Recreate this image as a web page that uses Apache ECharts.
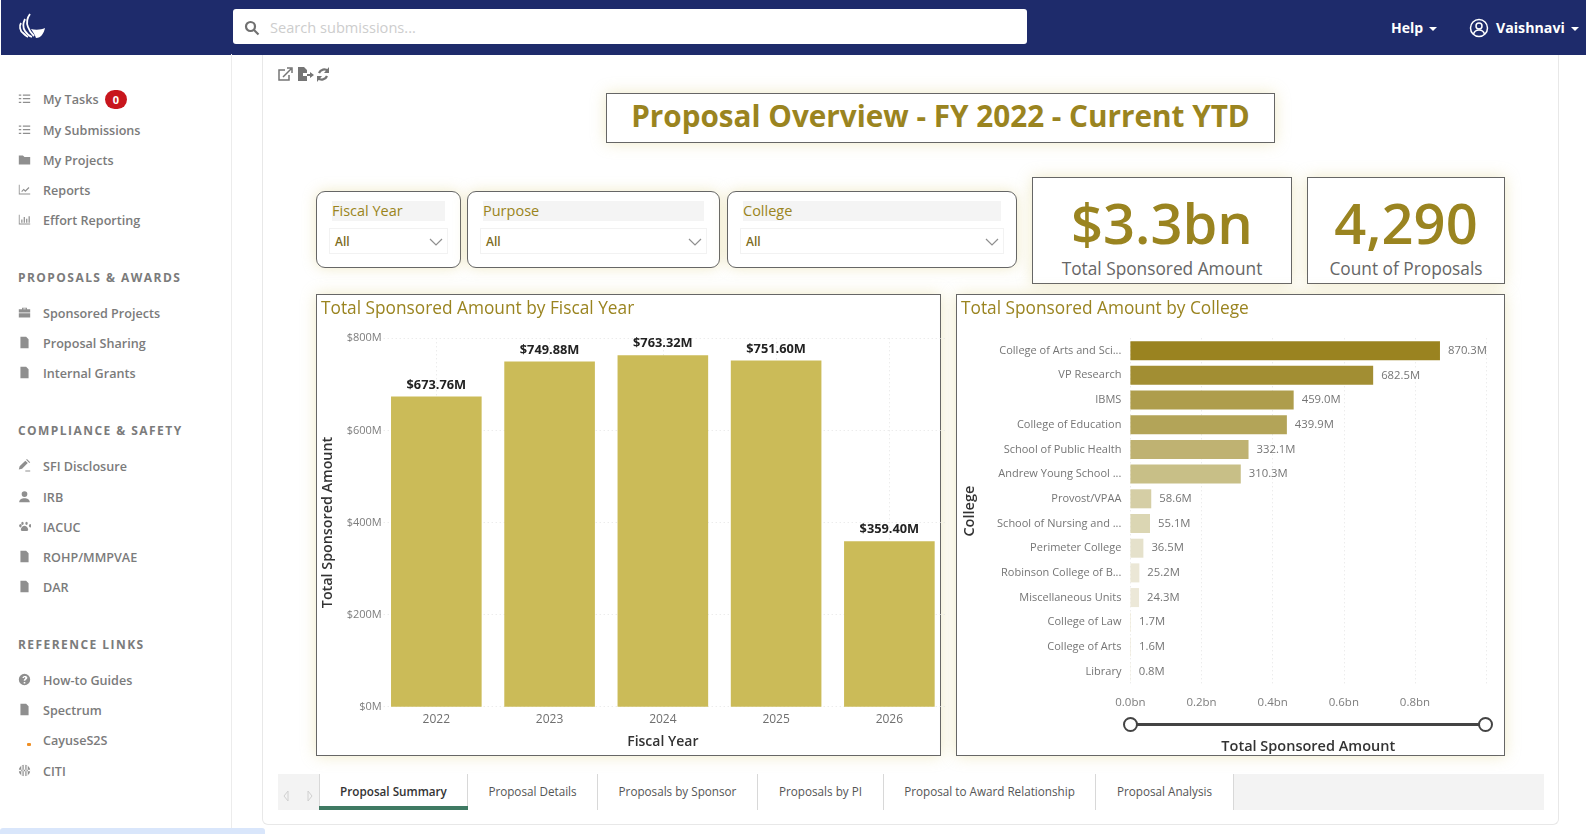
<!DOCTYPE html>
<html>
<head>
<meta charset="utf-8">
<title>Proposal Overview</title>
<script src="https://cdn.jsdelivr.net/npm/echarts@6/dist/echarts.min.js"></script>
<style>
html, body { margin: 0; padding: 0; width: 1586px; height: 834px; overflow: hidden; background: #fff; font-family: "Open Sans", sans-serif; }
body { filter: blur(0.45px); }
.abs { position: absolute; box-sizing: border-box; white-space: nowrap; }
#chart { position: absolute; left: 0; top: 0; width: 1586px; height: 834px; }
.glow { background: #fff; border: 1px solid #666; box-shadow: 0 0 14px rgba(215, 200, 110, .38); }
.menu { font-size: 12.6px; font-weight: 600; color: #7b7b7b; }
.head { font-size: 12px; font-weight: 700; color: #7b7b7b; letter-spacing: 1.45px; }
.tab { font-size: 11.7px; color: #555; background: #fff; text-align: center; border-right: 1px solid #d8d8d8; height: 36px; line-height: 34px; }
</style>
</head>
<body>
<div id="page"></div>
<div id="chart"></div>
<script>
// chart data
var years = ['2022', '2023', '2024', '2025', '2026'];
var yearAmounts = [673.76, 749.88, 763.32, 751.60, 359.40];
var colleges = ['College of Arts and Sci...', 'VP Research', 'IBMS', 'College of Education', 'School of Public Health',
	'Andrew Young School ...', 'Provost/VPAA', 'School of Nursing and ...', 'Perimeter College', 'Robinson College of B...',
	'Miscellaneous Units', 'College of Law', 'College of Arts', 'Library'];
var collegeAmounts = [870.3, 682.5, 459.0, 439.9, 332.1, 310.3, 58.6, 55.1, 36.5, 25.2, 24.3, 1.7, 1.6, 0.8];
var collegeColors = ['#9a8320', '#a28e33', '#ae9d4c', '#b3a458', '#bfb272', '#c8bf87', '#d5cea5', '#dbd6b3',
	'#e5e1cb', '#ebe7d6', '#ece8d8', '#eee9d6', '#eee9d6', '#eee9d6'];

// page furniture
var ICONS = {
	tasks: 'M1 3h3v1.5H1zM6 3h9v1.5H6zM1 7.5h3V9H1zM6 7.5h9V9H6zM1 12h3v1.5H1zM6 12h9v1.5H6z',
	folder: 'M1 3h5l2 2h7v9H1z',
	chart: 'M1 2h1v11h13v1H1zM4 10l3-3 2 2 4-4 1 1-5 5-2-2-2 2z',
	bars: 'M1 2h1v11h13v1H1zM4 8h1.500v4H4zM7 5h1.500v7H7zM10 7h1.500v5H10zM13 4h1.500v8H13z',
	bag: 'M5 2h6v2h4v4H1V4h4zM6.500 3.200V4h3v-.8zM1 9h14v5H1z',
	file: 'M3 1h7l3 3v11H3zM5 7h6v1.200H5zM5 10h6v1.200H5z',
	edit: 'M1 13l1-4 7-7 3 3-7 7zM10 1l1-1 4 4-1 1zM9 14h6v1.500H9z',
	user: 'M8 1.500a3.500 3.500 0 1 1 0 7 3.500 3.500 0 0 1 0-7zM1.500 15c0-3.500 3-5 6.500-5s6.500 1.500 6.500 5z',
	paw: 'M8 7c3 0 4.500 3 4.500 5 0 2-2.500 1.500-4.500 1.500S3.500 14 3.500 12c0-2 1.500-5 4.500-5zM2 5.500a1.500 2 0 1 1 0 3 1.500 2 0 0 1 0-3zM14 5.500a1.500 2 0 1 1 0 3 1.500 2 0 0 1 0-3zM5.500 2a1.500 2 0 1 1 0 4 1.500 2 0 0 1 0-4zM10.500 2a1.500 2 0 1 1 0 4 1.500 2 0 0 1 0-4z',
	help: 'M8 1a7 7 0 1 1 0 14A7 7 0 0 1 8 1zM7 11v2h2v-2zM5.500 6h2c0-1.500 1.500-1 1.500 0 0 1-2 1.200-2 3.500h2c0-1.500 2.500-2 2.500-3.800C11.500 3 5.800 3 5.500 6z',
	globe: 'M8 1a7 7 0 1 1 0 14A7 7 0 0 1 8 1zM1 7v2h14V7zM7 1v14h2V1zM4 2v12h1.500V2zM10.500 2v12H12V2z'
};
var menuRows = [
	['My Tasks', 100, 'tasks'], ['My Submissions', 130.5, 'tasks'], ['My Projects', 160.5, 'folder'], ['Reports', 190.5, 'chart'], ['Effort Reporting', 220.5, 'bars'],
	['Sponsored Projects', 314, 'bag'], ['Proposal Sharing', 344, 'file'], ['Internal Grants', 374, 'file'],
	['SFI Disclosure', 467, 'edit'], ['IRB', 497.5, 'user'], ['IACUC', 527.5, 'paw'], ['ROHP/MMPVAE', 557.5, 'file'], ['DAR', 587.5, 'file'],
	['How-to Guides', 681, 'help'], ['Spectrum', 711, 'file'], ['CayuseS2S', 741, null], ['CITI', 772, 'globe']
];
var menuHeads = [['PROPOSALS & AWARDS', 277.5], ['COMPLIANCE & SAFETY', 431], ['REFERENCE LINKS', 644.5]];
var slicers = [['Fiscal Year', 316, 461], ['Purpose', 467, 720], ['College', 727, 1017]];
var kpis = [['$3.3bn', 'Total Sponsored Amount', 1032, 1292], ['4,290', 'Count of Proposals', 1307, 1505]];
var tabs = [['Proposal Summary', 319, 468], ['Proposal Details', 468, 598], ['Proposals by Sponsor', 598, 758],
	['Proposals by PI', 758, 884], ['Proposal to Award Relationship', 884, 1096], ['Proposal Analysis', 1096, 1234]];

var page = document.getElementById('page');
function box(x, y, w, h, css, text, cls) {
	var d = document.createElement('div');
	d.className = 'abs ' + (cls || '');
	d.style.cssText = 'left:' + x + 'px;top:' + y + 'px;width:' + w + 'px;height:' + h + 'px;' + (css || '');
	if (text) d.textContent = text;
	page.appendChild(d);
	return d;
}
function icon(name, x, y, size, color) {
	var d = box(x, y, size, size);
	d.innerHTML = '<svg width="' + size + '" height="' + size + '" viewBox="0 0 16 16"><path fill="' + color + '" d="' + ICONS[name] + '"/></svg>';
	return d;
}
function caret(x, y) {
	box(x, y, 0, 0, 'border-left:4px solid transparent;border-right:4px solid transparent;border-top:4px solid #fff');
}

// header
box(1, 0, 1585, 54.5, 'background:#1e2b6b');
var logo = box(17, 12, 30, 30);
logo.innerHTML = '<svg width="30" height="30" viewBox="0 0 30 30" fill="none" stroke="#fff"><path stroke-width="1.800" d="M13 2c-3 4-4 8-2 13 1 3 3 6 6 9"/><path stroke-width="1.800" d="M8 7c-2 4-2 9 0 12 2 3 4 5 7 6"/><path stroke-width="1.800" d="M4 11c-2 3-1 8 2 10 1 1 3 3 5 4"/><path fill="#fff" stroke="none" d="M14 17c4 1 10 1 14-1-1 5-4 10-9 10-1-3-3-6-5-9z"/></svg>';
box(232.500, 9, 794.500, 35, 'background:#fff;border-radius:3px');
var glass = box(244, 19, 16, 16);
glass.innerHTML = '<svg width="16" height="16" viewBox="0 0 16 16" fill="none" stroke="#707070" stroke-width="2.200"><circle cx="6.500" cy="6.500" r="4.500"/><path d="M10 10l4.500 4.500"/></svg>';
box(270, 17, 200, 20, 'font-size:14.600px;line-height:20px;color:#cdcdcd', 'Search submissions...');
box(1391, 18, 40, 20, 'font-size:14px;line-height:20px;font-weight:700;color:#fff', 'Help');
caret(1429, 27);
var face = box(1469, 18, 20, 20);
face.innerHTML = '<svg width="20" height="20" viewBox="0 0 20 20" fill="none" stroke="#fff" stroke-width="1.500"><circle cx="10" cy="10" r="8.500"/><circle cx="10" cy="8" r="3"/><path d="M4.500 16c1-3 3-4 5.500-4s4.500 1 5.500 4"/></svg>';
box(1496, 18, 76, 20, 'font-size:14.200px;line-height:20px;font-weight:700;color:#fff', 'Vaishnavi');
caret(1571, 27);

// sidebar
box(231, 54, 1, 780, 'background:#ececec');
menuRows.forEach(function (r) {
	box(43, r[1] - 9, 170, 18, 'line-height:18px', r[0], 'menu');
	if (r[2]) icon(r[2], 18, r[1] - 12, 13, '#8f8f8f');
});
box(27, 743, 4, 3, 'background:#ef8f24;border-radius:1px');
menuHeads.forEach(function (r) { box(18, r[1] - 9, 200, 18, 'line-height:18px', r[0], 'head'); });
box(105, 90, 22, 19, 'background:#c8161d;border-radius:10px;color:#fff;font-size:11px;font-weight:700;line-height:19px;text-align:center', '0');
box(0, 828, 265, 8, 'background:#d9e6fb;border-radius:3px');

// content card
box(262, 55, 1297, 770, 'border:1px solid #e8e8e8;border-radius:0 0 6px 6px;border-top:0');
var tools = box(277, 66, 60, 17);
tools.innerHTML = '<svg width="60" height="17" viewBox="0 0 60 17" fill="none" stroke="#757575" stroke-width="1.500"><path d="M12 9v5H2V4h6"/><path d="M6 11l8-8M10 2h5v5"/><path fill="#757575" stroke="none" d="M21 1h6l3 3v3h-4v3h4v5H21zM30 8h3V6l4 3-4 3v-2h-3z"/><path stroke-width="2.200" d="M51 5a5.500 5.500 0 0 0-9 2M41 12a5.500 5.500 0 0 0 9-2"/><path fill="#757575" stroke="none" d="M52 1v6h-5zM40 16v-6h5z"/></svg>';

// report title
box(606, 93, 669, 50, 'font-size:29.700px;line-height:44px;font-weight:700;color:#9a8420;text-align:center', 'Proposal Overview - FY 2022 - Current YTD', 'glow');

// slicers
slicers.forEach(function (s) {
	var w = s[2] - s[1];
	box(s[1], 191, w, 77, 'border-radius:9px;border-width:1.500px', '', 'glow');
	box(s[1] + 16, 201, w - 32, 20, 'background:#f4f4f4;font-size:14.500px;line-height:20px;color:#9a8420', s[0]);
	box(s[1] + 13, 228, w - 26, 26, 'border:1px solid #f2f2f2;font-size:12px;line-height:25px;font-weight:600;color:#7d6c1e;padding-left:5px', 'All');
	var c = box(s[2] - 32, 230, 14, 10);
	c.innerHTML = '<svg width="14" height="10" viewBox="0 0 14 10" fill="none" stroke="#8f8f8f" stroke-width="1.200"><path d="M1 2l6 6 6-6"/></svg>';
});

// KPI cards
kpis.forEach(function (k) {
	var w = k[3] - k[2];
	box(k[2], 177, w, 107, '', '', 'glow');
	box(k[2], 186, w, 72, 'font-size:56px;line-height:72px;font-weight:600;color:#9a8420;text-align:center', k[0]);
	box(k[2], 257, w, 24, 'font-size:17.300px;line-height:24px;color:#666;text-align:center', k[1]);
});

// chart panels, the charts draw on top of these
box(315.500, 294, 625.500, 461.500, '', '', 'glow');
box(956, 294, 549, 461.500, '', '', 'glow');

// range slider under the college chart
box(1130, 722.500, 356, 3, 'background:#444');
box(1123, 717, 15, 15, 'border:2px solid #444;border-radius:50%;background:#fff');
box(1478, 717, 15, 15, 'border:2px solid #444;border-radius:50%;background:#fff');

// tabs
box(278, 773.500, 1266, 36, 'background:#f3f3f3');
var arrows = box(283, 785, 30, 12);
arrows.innerHTML = '<svg width="30" height="12" viewBox="0 0 30 12" fill="none" stroke="#d0d0d0"><path d="M5 1L1 6l4 5zM25 1l4 5-4 5z"/></svg>';
tabs.forEach(function (t, i) {
	box(t[1], 773.500, t[2] - t[1], 36, i === 0 ? 'color:#333;font-weight:600;border-left:1px solid #d8d8d8' : '', t[0], 'tab');
});
box(319, 806, 149, 3.500, 'background:#3f7a63');

// charts
var GOLD = '#9a8420';
var FONT = '"Open Sans", sans-serif';
var chart = echarts.init(document.getElementById('chart'), null, { renderer: 'canvas' });
var dots = { color: '#e4e4e4', type: [1, 3], width: 1 };

chart.setOption({
	animation: false,
	backgroundColor: 'transparent',
	textStyle: { fontFamily: FONT },
	title: [
		{ text: 'Total Sponsored Amount by Fiscal Year', left: 316, top: 296, textStyle: { fontFamily: FONT, fontSize: 17.300, fontWeight: 500, color: GOLD } },
		{ text: 'Total Sponsored Amount by College', left: 956, top: 296, textStyle: { fontFamily: FONT, fontSize: 17.300, fontWeight: 500, color: GOLD } }
	],
	grid: [
		{ left: 379.700, top: 338.300, width: 566.300, height: 368.400 },
		{ left: 1130.400, top: 338.300, width: 355.700, height: 345.700 }
	],
	xAxis: [
		{
			type: 'category', gridIndex: 0, data: years,
			axisLine: { show: false }, axisTick: { show: false },
			splitLine: { show: true, alignWithLabel: true, lineStyle: dots },
			axisLabel: { color: '#6f6f6f', fontSize: 12, margin: 7 },
			name: 'Fiscal Year', nameLocation: 'middle', nameGap: 28,
			nameTextStyle: { color: '#333', fontSize: 14, fontWeight: 600 }
		},
		{
			type: 'value', gridIndex: 1, min: 0, max: 1000, interval: 200,
			axisLine: { show: false }, axisTick: { show: false }, splitLine: { show: true, lineStyle: dots },
			axisLabel: {
				color: '#7d7d7d', fontSize: 11.500, margin: 13, showMaxLabel: false,
				formatter: function (v) { return (v / 1000).toFixed(1) + 'bn'; }
			},
			name: 'Total Sponsored Amount', nameLocation: 'middle', nameGap: 55,
			nameTextStyle: { color: '#333', fontSize: 14.500, fontWeight: 600 }
		}
	],
	yAxis: [
		{
			type: 'value', gridIndex: 0, min: 0, max: 800, interval: 200,
			axisLine: { show: false }, axisTick: { show: false }, splitLine: { show: true, lineStyle: dots },
			axisLabel: {
				color: '#7d7d7d', fontSize: 11, margin: -2, padding: [3, 0, 0, 0],
				formatter: function (v) { return '$' + v + 'M'; }
			},
			name: 'Total Sponsored Amount', nameLocation: 'middle', nameGap: 45,
			nameTextStyle: { color: '#333', fontSize: 14.300, fontWeight: 600 }
		},
		{
			type: 'category', gridIndex: 1, data: colleges, inverse: true,
			axisLine: { show: false }, axisTick: { show: false },
			axisLabel: { color: '#757575', fontSize: 11, margin: 9 },
			name: 'College', nameLocation: 'middle', nameGap: 153,
			nameTextStyle: { color: '#333', fontSize: 14.500, fontWeight: 600 }
		}
	],
	series: [
		{
			type: 'bar', xAxisIndex: 0, yAxisIndex: 0, data: yearAmounts, barWidth: '80%',
			itemStyle: { color: '#cbbb58' },
			label: {
				show: true, position: 'top', distance: 5, color: '#222', fontSize: 12.800, fontWeight: 700,
				formatter: function (p) { return '$' + p.value.toFixed(2) + 'M'; }
			}
		},
		{
			type: 'bar', xAxisIndex: 1, yAxisIndex: 1, barWidth: '77%',
			data: collegeAmounts.map(function (v, i) {
				return { value: v, itemStyle: { color: collegeColors[i] } };
			}),
			label: {
				show: true, position: 'right', distance: 8, color: '#757575', fontSize: 11.300,
				formatter: function (p) { return p.value.toFixed(1) + 'M'; }
			}
		}
	]
});
</script>
</body>
</html>
